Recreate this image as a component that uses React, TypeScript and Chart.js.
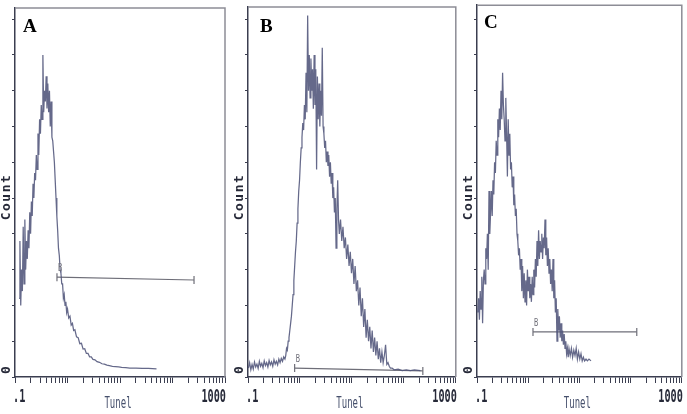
import React, { useEffect, useRef } from 'react';
import { Chart, registerables } from 'chart.js';

Chart.register(...registerables);

// ---- Data: histogram channels (256 channels per decade, .1 – 1000) and counts ----
const channelsA = [20, 24, 28, 32, 36, 40, 44, 48, 52, 56, 60, 64, 68, 72, 76, 80, 84, 88, 92, 96, 100, 104, 108, 112, 116, 120, 124, 128, 132, 136, 140, 144, 148, 152, 156, 160, 164, 168, 172, 176, 180, 184, 188, 192, 196, 200, 204, 208, 212, 216, 220, 224, 228, 232, 236, 240, 244, 248, 252, 256, 262, 268, 274, 280, 286, 292, 300, 308, 316, 324, 332, 340, 348, 356, 364, 372, 380, 390, 400, 412, 424, 436, 448, 460, 475, 490, 505, 520, 540, 560, 590, 620, 650, 690];
const countsA = [22, 38, 20, 30, 24, 42, 26, 44, 30, 38, 33, 41, 36, 46, 40, 49, 45, 54, 50, 57, 55, 62, 58, 68, 62, 72, 68, 76, 72, 90, 74, 80, 77, 84, 75, 82, 74, 80, 70, 77, 67, 66, 63, 60, 55, 50, 45, 41, 36, 34, 30, 29, 26, 26, 22, 23, 20, 21, 18, 19, 16.5, 17, 14.5, 15, 13, 13.2, 11.2, 11, 9.3, 9.4, 7.8, 7.9, 6.6, 6.6, 5.6, 5.6, 4.9, 4.8, 4.3, 4.1, 3.7, 3.6, 3.3, 3.2, 3, 2.9, 2.8, 2.7, 2.6, 2.5, 2.5, 2.4, 2.4, 2.3];

const channelsB = [2, 8, 14, 20, 26, 32, 38, 44, 50, 56, 62, 68, 74, 80, 86, 92, 98, 104, 110, 116, 122, 128, 134, 140, 146, 152, 158, 164, 170, 176, 182, 186, 190, 194, 198, 202, 206, 210, 214, 218, 222, 226, 230, 234, 238, 242, 246, 250, 254, 258, 262, 266, 270, 274, 278, 282, 286, 290, 294, 298, 302, 306, 310, 314, 318, 322, 326, 330, 334, 338, 342, 346, 350, 354, 358, 362, 366, 370, 374, 378, 382, 386, 390, 394, 398, 402, 406, 410, 414, 418, 422, 426, 430, 434, 438, 442, 446, 450, 456, 462, 468, 474, 480, 486, 492, 498, 504, 510, 516, 522, 528, 534, 540, 546, 552, 558, 564, 570, 576, 582, 588, 594, 600, 606, 612, 618, 624, 630, 636, 642, 648, 654, 660, 666, 672, 678, 684, 690, 696, 702, 710, 720, 740, 760, 780, 800, 820, 850];
const countsB = [2.5, 4, 2, 3.5, 2.2, 4.2, 2.8, 3.6, 2.4, 4.4, 3, 3.8, 2.6, 4.5, 3.2, 4, 2.8, 4.6, 3.4, 4.2, 3, 4.8, 3.6, 4.4, 3.4, 5, 4, 5.2, 4.4, 5.6, 5, 6, 8, 7.5, 10, 11, 13, 15, 17, 20, 23, 27, 31, 35, 38, 43, 47, 52, 55, 60, 64, 67, 71, 69, 76, 72, 85, 74, 101, 80, 90, 78, 89, 80, 86, 75, 90, 76, 86, 58, 84, 72, 82, 70, 80, 73, 92, 70, 68, 64, 66, 60, 63, 59, 62, 56, 60, 54, 57, 50, 53, 46, 50, 36, 47, 55, 44, 40, 44, 38, 42, 36, 39, 33, 37, 31, 35, 29, 33, 26, 31, 24, 27, 20, 25, 17, 22, 14, 19, 11, 16, 10, 14, 8, 13, 7, 11, 6, 10, 5, 8, 4, 7, 4, 6, 9, 3.5, 4, 3, 2.5, 2.5, 2, 2.2, 1.8, 2, 1.8, 2, 1.8];

const channelsC = [4, 8, 12, 16, 20, 24, 28, 32, 36, 40, 44, 48, 52, 56, 60, 64, 68, 72, 76, 80, 84, 88, 92, 96, 100, 104, 108, 112, 116, 120, 124, 128, 132, 136, 140, 144, 148, 152, 156, 160, 164, 168, 172, 176, 180, 184, 188, 192, 196, 200, 204, 208, 212, 216, 220, 224, 228, 232, 236, 240, 244, 248, 252, 256, 260, 264, 268, 272, 276, 280, 284, 288, 292, 296, 300, 304, 308, 312, 316, 320, 324, 328, 332, 336, 340, 344, 348, 352, 356, 360, 364, 368, 372, 376, 380, 384, 388, 392, 396, 400, 404, 408, 412, 416, 420, 424, 428, 432, 436, 440, 444, 448, 452, 456, 460, 466, 472, 478, 484, 490, 496, 502, 508, 514, 520, 526, 532, 538, 545, 552, 560, 570];
const countsC = [18, 22, 16, 24, 19, 28, 15, 27, 30, 26, 36, 33, 40, 30, 52, 40, 46, 52, 45, 55, 51, 60, 57, 66, 62, 72, 67, 75, 69, 80, 72, 85, 76, 72, 66, 78, 68, 56, 72, 62, 68, 58, 60, 53, 56, 48, 51, 45, 47, 40, 38, 34, 36, 30, 33, 24, 31, 22, 29, 21, 27, 20, 30, 24, 28, 22, 26, 21, 28, 23, 30, 25, 33, 28, 38, 31, 41, 33, 38, 35, 40, 33, 39, 36, 44, 34, 39, 31, 36, 29, 33, 26, 30, 24, 33, 22, 27, 18, 22, 10, 19, 13, 17, 11, 15, 10, 13, 9, 12, 8, 10, 6.5, 8, 5.5, 8, 6, 8, 5.5, 7.5, 6, 8, 5, 7, 5, 6.5, 4.5, 5.5, 4.5, 5, 4.5, 5, 4.5];

// Gate "B" markers: [start, end] in Tunel units, and [level at start, level at end] in counts
const gateRangeA = [0.63, 257];
const gateLevelA = [27.9, 27.1];
const gateRangeB = [0.79, 232];
const gateLevelB = [2.5, 1.7];
const gateRangeC = [1.24, 132];
const gateLevelC = [12.6, 12.6];

// ---- Text ----
const panelLetters = ['A', 'B', 'C'];
const xTickLabels = ['.1', '1000'];
const xTitle = 'Tunel';
const yTitle = 'Count';
const yZeroLabel = '0';
const gateName = 'B';

const xMin = 0.1;
const xMax = 1000;

// ---- Layout (pixels) ----
const layouts = [
  { left: 0, width: 232, axisLeft: 15, padRight: 7, top: 8, yMax: 103.1, letterX: 23, letterY: 32 },
  { left: 232, width: 229, axisLeft: 16, padRight: 5, top: 7, yMax: 103.4, letterX: 28, letterY: 32 },
  { left: 461, width: 226, axisLeft: 16, padRight: 4, top: 5, yMax: 103.9, letterX: 23, letterY: 28 },
];
const H = 414;
const X_AXIS_H = 37;

const dataSets = [
  { ch: channelsA, counts: countsA, gateRange: gateRangeA, gateLevel: gateLevelA },
  { ch: channelsB, counts: countsB, gateRange: gateRangeB, gateLevel: gateLevelB },
  { ch: channelsC, counts: countsC, gateRange: gateRangeC, gateLevel: gateLevelC },
];

const chToTunel = (ch: number) => xMin * Math.pow(10, ch / 256);

const xTickValues: number[] = [];
[0.1, 1, 10, 100].forEach((d) => {
  for (let k = 1; k <= 9; k++) xTickValues.push(+(k * d).toPrecision(3));
});
xTickValues.push(1000);

const AXIS_COLOR = '#3b3e50';
const FRAME_COLOR = '#8d8d96';
const CURVE_COLOR = 'rgba(80,84,122,0.88)';
const GATE_COLOR = '#6e6e78';

function drawScaledText(ctx: CanvasRenderingContext2D, text: string, x: number, y: number, font: string, sx: number, align: CanvasTextAlign, color: string) {
  ctx.save();
  ctx.translate(x, y);
  ctx.scale(sx, 1);
  ctx.font = font;
  ctx.fillStyle = color;
  ctx.textAlign = align;
  ctx.textBaseline = 'alphabetic';
  ctx.fillText(text, 0, 0);
  ctx.restore();
}

function makeDecor(idx: number) {
  return {
    id: 'decor' + idx,
    afterDraw(chart: any) {
      const { ctx, chartArea: ca, scales } = chart;
      const lay = layouts[idx];
      const ds = dataSets[idx];
      ctx.save();
      // top and right frame
      ctx.strokeStyle = FRAME_COLOR;
      ctx.lineWidth = 1.5;
      ctx.beginPath();
      ctx.moveTo(ca.left, ca.top);
      ctx.lineTo(ca.right, ca.top);
      ctx.lineTo(ca.right, ca.bottom);
      ctx.stroke();

      // x tick labels
      const tickFont = 'bold 17px "DejaVu Sans Mono"';
      drawScaledText(ctx, xTickLabels[0], ca.left - 2, 402, tickFont, 0.6, 'left', '#262938');
      drawScaledText(ctx, xTickLabels[1], ca.right + 1, 402, tickFont, 0.6, 'right', '#262938');
      // x title
      drawScaledText(ctx, xTitle, (ca.left + ca.right) / 2 - 2, 408, '15px "DejaVu Sans Mono"', 0.6, 'center', '#46506c');

      // y title (rotated)
      ctx.save();
      ctx.translate(lay.axisLeft - 8, 197);
      ctx.rotate(-Math.PI / 2);
      ctx.font = 'bold 13px "DejaVu Sans Mono"';
      (ctx as any).letterSpacing = '1.5px';
      ctx.fillStyle = '#262938';
      ctx.textAlign = 'center';
      ctx.textBaseline = 'middle';
      ctx.fillText(yTitle, 0, 0);
      ctx.restore();

      // y zero label (rotated)
      ctx.save();
      ctx.translate(lay.axisLeft - 8, 370);
      ctx.rotate(-Math.PI / 2);
      ctx.font = 'bold 13px "DejaVu Sans Mono"';
      ctx.fillStyle = '#262938';
      ctx.textAlign = 'center';
      ctx.textBaseline = 'middle';
      ctx.fillText(yZeroLabel, 0, 0);
      ctx.restore();

      // panel letter
      ctx.font = 'bold 19px "Liberation Serif"';
      ctx.fillStyle = '#000';
      ctx.textAlign = 'left';
      ctx.textBaseline = 'alphabetic';
      ctx.fillText(panelLetters[idx], lay.letterX, lay.letterY);

      // gate name
      const gx = scales.x.getPixelForValue(ds.gateRange[0]);
      const gy = scales.y.getPixelForValue(ds.gateLevel[0]);
      drawScaledText(ctx, gateName, gx + 1, gy - 6, '10px "DejaVu Sans Mono"', 0.7, 'left', GATE_COLOR);
      ctx.restore();
    },
  };
}

function Panel({ idx }: { idx: number }) {
  const ref = useRef<HTMLCanvasElement | null>(null);
  useEffect(() => {
    const lay = layouts[idx];
    const ds = dataSets[idx];
    const curve = ds.ch.map((c, i) => ({ x: chToTunel(c), y: ds.counts[i] }));
    const gate = [
      { x: ds.gateRange[0], y: ds.gateLevel[0] },
      { x: ds.gateRange[1], y: ds.gateLevel[1] },
    ];
    const chart = new Chart(ref.current as HTMLCanvasElement, {
      type: 'line',
      data: {
        datasets: [
          {
            data: curve,
            borderColor: CURVE_COLOR,
            borderWidth: 1.25,
            pointRadius: 0,
            tension: 0,
            fill: false,
          },
          {
            data: gate,
            borderColor: GATE_COLOR,
            borderWidth: 1.2,
            pointStyle: 'line',
            pointRotation: 90,
            pointRadius: 4,
            pointBorderColor: GATE_COLOR,
            pointBorderWidth: 1.2,
            tension: 0,
            fill: false,
          },
        ],
      } as any,
      options: {
        responsive: false,
        animation: false,
        events: [],
        layout: { padding: { top: lay.top, right: lay.padRight, left: 0, bottom: 0 } },
        plugins: { legend: { display: false }, tooltip: { enabled: false } },
        scales: {
          x: {
            type: 'logarithmic',
            min: xMin,
            max: xMax,
            afterBuildTicks: (axis: any) => {
              axis.ticks = xTickValues.map((v) => ({ value: v }));
            },
            afterFit: (axis: any) => {
              axis.height = X_AXIS_H;
            },
            ticks: { display: false },
            grid: { display: true, drawOnChartArea: false, drawTicks: true, tickLength: 6, tickColor: AXIS_COLOR, lineWidth: 1 },
            border: { display: true, color: AXIS_COLOR, width: 1.5 },
          },
          y: {
            type: 'linear',
            min: 0,
            max: lay.yMax,
            afterFit: (axis: any) => {
              axis.width = lay.axisLeft;
            },
            ticks: { display: false, stepSize: 10, includeBounds: false },
            grid: { display: true, drawOnChartArea: false, drawTicks: true, tickLength: 3, tickColor: AXIS_COLOR, lineWidth: 1 },
            border: { display: true, color: AXIS_COLOR, width: 1.5 },
          },
        },
      } as any,
      plugins: [makeDecor(idx)],
    });
    return () => chart.destroy();
  }, [idx]);
  const lay = layouts[idx];
  return (
    <canvas
      ref={ref}
      width={lay.width}
      height={H}
      style={{ position: 'absolute', left: lay.left, top: 0, width: lay.width, height: H, display: 'block' }}
    />
  );
}

export default function App() {
  return (
    <div style={{ position: 'absolute', left: 0, top: 0, width: 687, height: 414, background: '#ffffff', overflow: 'hidden' }}>
      <Panel idx={0} />
      <Panel idx={1} />
      <Panel idx={2} />
    </div>
  );
}
